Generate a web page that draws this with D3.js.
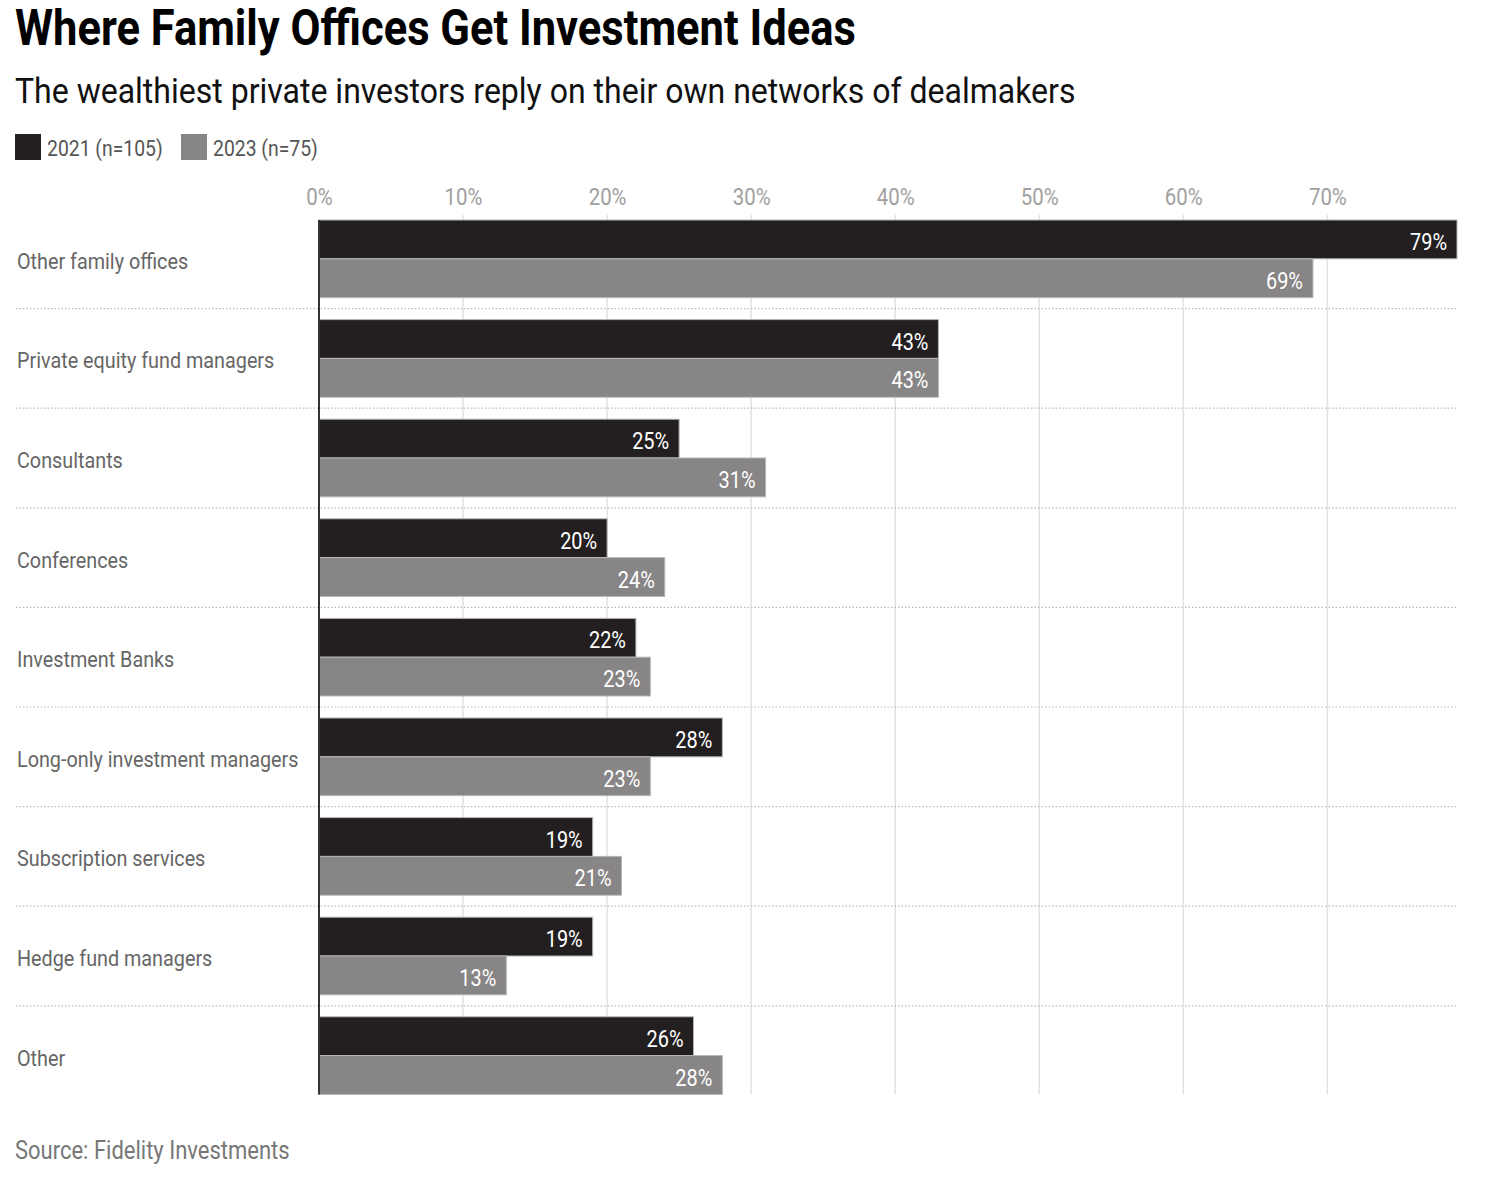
<!DOCTYPE html>
<html>
<head>
<meta charset="utf-8">
<script src="https://cdn.jsdelivr.net/npm/d3@7"></script>
<style>
  html, body { margin: 0; padding: 0; background: #fff; }
  svg { display: block; }
  text { font-family: "Roboto", "Liberation Sans", sans-serif; }
</style>
</head>
<body>
<svg id="chart" width="1490" height="1186"></svg>
<script>
const categories = ["Other family offices", "Private equity fund managers", "Consultants", "Conferences", "Investment Banks", "Long-only investment managers", "Subscription services", "Hedge fund managers", "Other"];
const series2021 = [79, 43, 25, 20, 22, 28, 19, 19, 26];
const series2023 = [69, 43, 31, 24, 23, 23, 21, 13, 28];
const seriesNames = ["2021 (n=105)", "2023 (n=75)"];
const tickValues = [0, 10, 20, 30, 40, 50, 60, 70];

const SX = 0.85; // horizontal condensation to mimic a condensed face
const svg = d3.select("#chart");
const colors = ["#231f20", "#878586"];

function ctext(parent, X, Y, s, sx) {
  return parent.append("text").attr("x", 0).attr("y", 0)
    .attr("transform", `translate(${X},${Y}) scale(${sx || SX},1)`).text(s);
}

// Title & subtitle
ctext(svg, 15, 45, "Where Family Offices Get Investment Ideas", 0.87)
  .attr("font-size", 50).attr("font-weight", "bold").attr("fill", "#000");
ctext(svg, 15, 103, "The wealthiest private investors reply on their own networks of dealmakers", 0.915)
  .attr("font-size", 35).attr("fill", "#111");

// Legend
const legX = [15, 181];
seriesNames.forEach((n, i) => {
  svg.append("rect").attr("x", legX[i]).attr("y", 134).attr("width", 26).attr("height", 26).attr("fill", colors[i]);
  ctext(svg, legX[i] + 32, 156, n, 0.88).attr("font-size", 22).attr("fill", "#555");
});

const x = d3.scaleLinear().domain([0, 79]).range([319, 1457]);
const step = 99.6, groupH = 77.6;
const y0 = d => 220 + categories.indexOf(d) * step;
const sub = d3.scaleBand().domain([0, 1]).range([0, groupH]);
const bottom = 220 + step * (categories.length - 1) + groupH;

// vertical gridlines
svg.append("g").selectAll("line").data(tickValues.slice(1)).join("line")
  .attr("x1", d => x(d)).attr("x2", d => x(d))
  .attr("y1", 215).attr("y2", bottom)
  .attr("stroke", "#e2e2e2").attr("stroke-width", 1.5);

// x axis tick labels
const xAxis = d3.axisTop(x).tickValues(tickValues).tickFormat(d => d + "%").tickSize(0).tickPadding(0);
const gx = svg.append("g").attr("transform", "translate(0,205)").call(xAxis);
gx.select(".domain").remove();
gx.selectAll("text").attr("font-size", 24).attr("fill", "#a0a0a0")
  .attr("font-family", "Roboto, sans-serif").attr("dy", 0).attr("y", 0)
  .attr("transform", `scale(0.85,1)`);

// separators
svg.append("g").selectAll("line").data(categories.slice(0, -1)).join("line")
  .attr("x1", 16).attr("x2", 1457)
  .attr("y1", d => y0(d) + groupH + (step - groupH) / 2)
  .attr("y2", d => y0(d) + groupH + (step - groupH) / 2)
  .attr("stroke", "#bbb").attr("stroke-width", 1.2).attr("stroke-dasharray", "1.5,2");

// bars
const data = categories.map((c, i) => ({ c, vals: [series2021[i], series2023[i]] }));
const groups = svg.append("g").selectAll("g").data(data).join("g")
  .attr("transform", d => `translate(0,${y0(d.c)})`);
groups.selectAll("rect").data(d => d.vals.map((v, k) => ({ v, k }))).join("rect")
  .attr("x", x(0)).attr("y", d => sub(d.k))
  .attr("width", d => x(d.v) - x(0)).attr("height", sub.bandwidth())
  .attr("fill", d => colors[d.k]).attr("stroke", "#b5b5b5").attr("stroke-width", 1);
groups.each(function(d) {
  const g = d3.select(this);
  d.vals.forEach((v, k) => {
    ctext(g, x(v) - 10, sub(k) + sub.bandwidth() / 2 + 10.5, v + "%", 0.83)
      .attr("text-anchor", "end").attr("font-size", 24).attr("fill", "#fff");
  });
  ctext(g, 17, groupH / 2 + 10, d.c, 0.9).attr("font-size", 22).attr("fill", "#666");
});

// y axis line
svg.append("line").attr("x1", x(0)).attr("x2", x(0))
  .attr("y1", 220).attr("y2", bottom)
  .attr("stroke", "#333").attr("stroke-width", 2);

// source
ctext(svg, 15, 1159, "Source: Fidelity Investments", 0.88).attr("font-size", 25).attr("fill", "#777");
</script>
</body>
</html>
